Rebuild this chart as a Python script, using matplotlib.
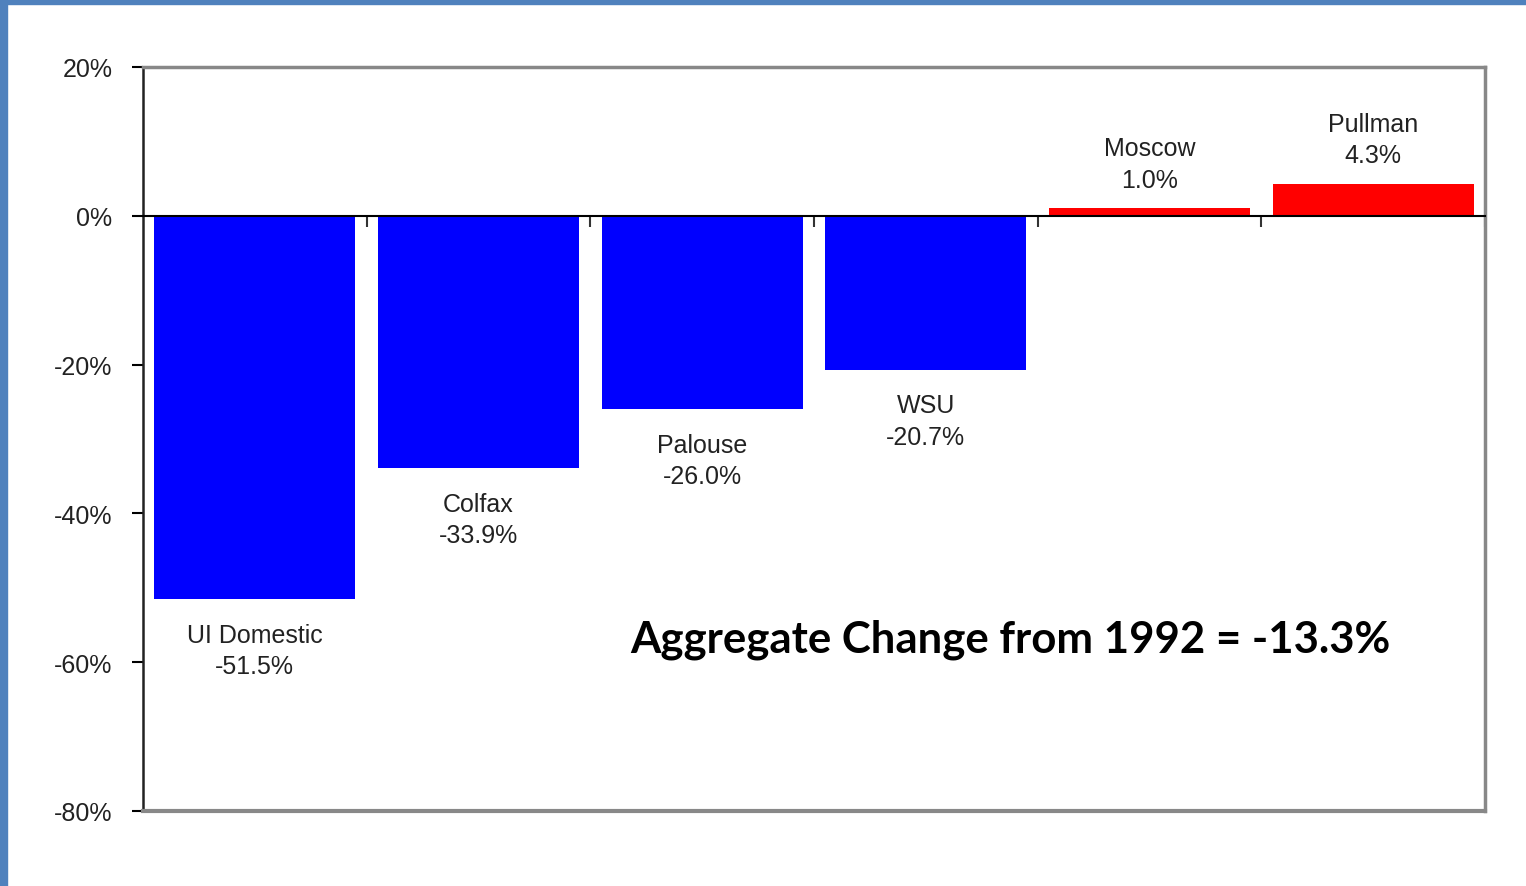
import matplotlib
matplotlib.use("Agg")
import matplotlib.pyplot as plt
from matplotlib.patches import Rectangle
from matplotlib.ticker import FuncFormatter

# data
places = ["UI Domestic", "Colfax", "Palouse", "WSU", "Moscow", "Pullman"]
changes = [-51.5, -33.9, -26.0, -20.7, 1.0, 4.3]
aggregate = -13.3

plt.rcParams['font.family'] = ['Liberation Sans', 'DejaVu Sans']

fig = plt.figure(figsize=(15.26, 8.87), dpi=100)
fig.patch.set_facecolor("white")

# blue frame of the slide
fig.patches.append(Rectangle((0, 0), 7 / 1526, 1, transform=fig.transFigure,
                             color="#4f81bd", zorder=0))
fig.patches.append(Rectangle((0, 1 - 5 / 887), 1, 5 / 887, transform=fig.transFigure,
                             color="#4f81bd", zorder=0))

ax = fig.add_axes([143 / 1526, 1 - 812 / 887, (1485 - 143) / 1526, (812 - 68) / 887])

x = list(range(len(places)))
colors = ["blue" if v < 0 else "red" for v in changes]
ax.bar(x, changes, width=0.9, color=colors, zorder=2)

ax.set_xlim(-0.5, len(places) - 0.5)
ax.set_ylim(-80, 20)
ax.set_yticks([20, 0, -20, -40, -60, -80])
ax.yaxis.set_major_formatter(FuncFormatter(lambda v, p: f"{v:.0f}%"))
ax.tick_params(axis="y", direction="out", length=8, width=1.5, labelsize=18,
               labelcolor="#222222", pad=14)

# category axis sits on the 0% line
ax.spines["bottom"].set_position(("data", 0))
ax.spines["bottom"].set_color("black")
ax.spines["bottom"].set_linewidth(1.5)
ax.spines["left"].set_color("#222222")
ax.spines["left"].set_linewidth(1.8)
for s in ["top", "right"]:
    ax.spines[s].set_color("#888888")
    ax.spines[s].set_linewidth(2.5)
ax.set_xticks([i + 0.5 for i in range(len(places))])
ax.set_xticklabels([])
ax.tick_params(axis="x", direction="out", length=8, width=1.5, color="#333333")

# bottom border of plot area (gray)
ax.axhline(-80, color="#888888", linewidth=3, zorder=3, clip_on=False)

for i, (name, v) in enumerate(zip(places, changes)):
    txt = f"{name}\n{v:.1f}%"
    if v < 0:
        ax.annotate(txt, (i, v), xytext=(0, -17), textcoords="offset points",
                    ha="center", va="top", fontsize=18, color="#222222",
                    linespacing=1.4)
    else:
        ax.annotate(txt, (i, v), xytext=(0, 12), textcoords="offset points",
                    ha="center", va="bottom", fontsize=18, color="#222222",
                    linespacing=1.4)

ax.text(3.38, -56.8, f"Aggregate Change from 1992 = {aggregate}%",
        ha="center", va="center", fontsize=31.5, fontweight="bold",
        family=["Lato", "DejaVu Sans"], color="black")

fig.savefig("out.png", dpi=100)
